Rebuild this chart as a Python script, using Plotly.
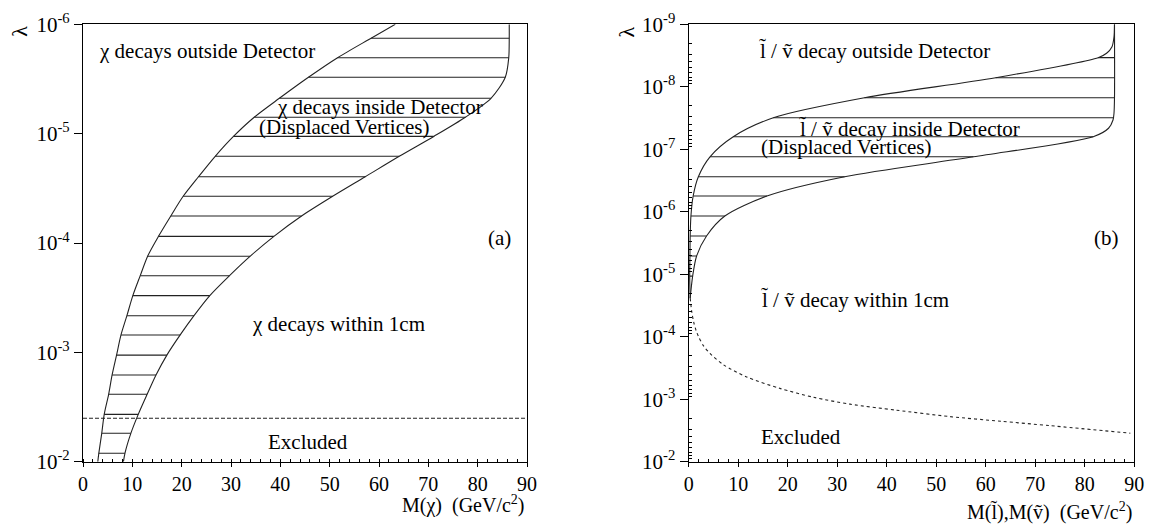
import numpy as np
import plotly.graph_objects as go

# ---------------- Panel (a): chi ----------------
lam_a = [1.0e-2, 8.38e-3, 5.50e-3, 3.69e-3, 2.42e-3, 1.61e-3, 1.06e-3, 6.93e-4, 4.62e-4,
         3.03e-4, 1.99e-4, 1.32e-4, 8.69e-5, 5.66e-5, 3.74e-5, 2.48e-5, 1.61e-5, 1.06e-5,
         7.08e-6, 4.75e-6, 3.05e-6, 2.02e-6, 1.34e-6, 1.0e-6]
m_lo_a = [3.0, 3.2, 3.8, 4.3, 5.2, 5.9, 6.8, 7.7, 8.9, 10.1, 11.6, 13.1, 15.3, 17.8, 20.3,
          23.4, 26.8, 30.5, 34.7, 39.8, 45.7, 51.6, 58.4, 63.3]
m_hi_a = [8.2, 8.5, 9.7, 11.2, 13.0, 14.8, 17.0, 19.7, 22.5, 25.7, 29.7, 33.9, 38.7, 44.3,
          50.6, 57.2, 64.1, 71.1, 77.5, 82.7, 85.6, 86.3, 86.4, 86.4]
hatch_a = lam_a[1:-1]
excluded_a = 4.0e-3

# ---------------- Panel (b): slepton / sneutrino ----------------
lam_up_b = [1.0e-9, 1.58e-9, 2.28e-9, 2.91e-9, 3.42e-9, 7.16e-9, 1.50e-8, 3.13e-8, 6.30e-8,
            1.32e-7, 2.75e-7, 5.60e-7, 1.17e-6, 2.44e-6, 5.10e-6, 1.07e-5, 2.40e-5]
m_up_b = [86.0, 85.9, 85.5, 84.4, 82.7, 62.0, 35.5, 17.1, 9.0, 4.3, 1.95, 0.9, 0.45, 0.3,
          0.25, 0.2, 0.3]
lam_dn_b = [1.0e-9, 1.5e-8, 2.65e-8, 3.40e-8, 4.61e-8, 6.30e-8, 1.32e-7, 2.75e-7, 5.60e-7,
            1.17e-6, 2.44e-6, 5.10e-6, 1.07e-5, 2.40e-5]
m_dn_b = [86.0, 86.0, 85.9, 85.7, 84.8, 81.7, 57.5, 31.5, 15.8, 7.3, 3.6, 1.6, 0.8, 0.3]
hatch_b = [3.42e-9, 7.16e-9, 1.50e-8, 3.13e-8, 6.30e-8, 1.32e-7, 2.75e-7, 5.60e-7, 1.17e-6,
           2.44e-6, 5.10e-6, 1.07e-5]
lam_dash_b = [2.4e-5, 3.9e-5, 5.8e-5, 8.0e-5, 1.0e-4, 1.4e-4, 1.85e-4, 2.8e-4, 4.4e-4, 6.7e-4,
              9.3e-4, 1.2e-3, 1.5e-3, 1.9e-3, 2.25e-3, 2.65e-3, 3.5e-3]
m_dash_b = [0.3, 0.6, 1.0, 1.5, 2.0, 3.0, 4.3, 7.0, 11.7, 18.4, 25.2, 32.6, 42.0, 52.8, 63.0,
            73.0, 89.2]

FONT = "Liberation Serif, Times New Roman, serif"
W, H = 1149, 524
LINE = "#222222"


def interp_mass(lams, masses, levels):
    lg = np.log10(np.asarray(lams, dtype=float))
    mm = np.asarray(masses, dtype=float)
    order = np.argsort(lg)
    return np.interp(np.log10(levels), lg[order], mm[order])


def hatch_xy(levels, lo, hi):
    xs, ys = [], []
    for lev, a, b in zip(levels, lo, hi):
        xs += [a, b, None]
        ys += [lev, lev, None]
    return xs, ys


fig = go.Figure()

# panel (a) curves
for m in (m_lo_a, m_hi_a):
    fig.add_trace(go.Scatter(x=m, y=lam_a, mode="lines", xaxis="x", yaxis="y",
                             line=dict(color=LINE, width=1.1, shape="spline", smoothing=0.8),
                             showlegend=False, hoverinfo="skip"))
lo = interp_mass(lam_a, m_lo_a, hatch_a)
hi = interp_mass(lam_a, m_hi_a, hatch_a)
hx, hy = hatch_xy(hatch_a, lo, hi)
fig.add_trace(go.Scatter(x=hx, y=hy, mode="lines", xaxis="x", yaxis="y",
                         line=dict(color=LINE, width=1.1), showlegend=False, hoverinfo="skip"))
fig.add_trace(go.Scatter(x=[0, 90], y=[excluded_a, excluded_a], mode="lines", xaxis="x", yaxis="y",
                         line=dict(color=LINE, width=1.1, dash="4px,2px"),
                         showlegend=False, hoverinfo="skip"))

# panel (b) curves
for lams, m in ((lam_up_b, m_up_b), (lam_dn_b, m_dn_b)):
    fig.add_trace(go.Scatter(x=m, y=lams, mode="lines", xaxis="x2", yaxis="y2",
                             line=dict(color=LINE, width=1.1, shape="spline", smoothing=0.8),
                             showlegend=False, hoverinfo="skip"))
lo = interp_mass(lam_up_b, m_up_b, hatch_b)
hi = interp_mass(lam_dn_b, m_dn_b, hatch_b)
hx, hy = hatch_xy(hatch_b, lo, hi)
fig.add_trace(go.Scatter(x=hx, y=hy, mode="lines", xaxis="x2", yaxis="y2",
                         line=dict(color=LINE, width=1.1), showlegend=False, hoverinfo="skip"))
fig.add_trace(go.Scatter(x=m_dash_b, y=lam_dash_b, mode="lines", xaxis="x2", yaxis="y2",
                         line=dict(color=LINE, width=1.1, dash="3px,3px", shape="spline", smoothing=0.8),
                         showlegend=False, hoverinfo="skip"))


def xax(x0, x1, anchor):
    return dict(domain=[x0 / W, x1 / W], range=[0, 90], anchor=anchor,
                tickvals=list(range(0, 91, 10)), ticks="outside", ticklen=4, tickwidth=1,
                minor=dict(ticks="inside", dtick=2, tick0=0, ticklen=3, tickwidth=1, tickcolor="black"),
                showline=True, mirror=True, linecolor="black", linewidth=1.3,
                showgrid=False, zeroline=False, tickcolor="black",
                tickfont=dict(family=FONT, size=20, color="black"), automargin=False,
                ticklabelstandoff=0, fixedrange=True)


def yax(exps, anchor, minor=False):
    lo_e, hi_e = exps
    vals = [10.0 ** e for e in range(lo_e, hi_e + 1)]
    text = ["10<sup>%d</sup>" % e for e in range(lo_e, hi_e + 1)]
    ax = dict(type="log", domain=[1 - 461.7 / H, 1 - 24.3 / H], range=[hi_e, lo_e],
              anchor=anchor, tickvals=vals, ticktext=text, ticks="outside", ticklen=8,
              tickwidth=1, tickcolor="black",
              showline=True, mirror=True, linecolor="black", linewidth=1.3,
              showgrid=False, zeroline=False,
              tickfont=dict(family=FONT, size=21, color="black"), automargin=False,
              fixedrange=True)
    if minor:
        mv = [k * 10.0 ** e for e in range(lo_e, hi_e) for k in range(2, 10)]
        ax["minor"] = dict(tickmode="array", tickvals=mv, ticks="inside", ticklen=3,
                           tickwidth=1, tickcolor="black")
    return ax


fig.update_layout(
    width=W, height=H, margin=dict(l=0, r=0, t=0, b=0),
    paper_bgcolor="white", plot_bgcolor="white",
    font=dict(family=FONT, size=20, color="black"),
    xaxis=xax(83, 527, "y"), yaxis=yax((-6, -2), "x"),
    xaxis2=xax(688.7, 1134.3, "y2"), yaxis2=yax((-9, -2), "x2", minor=True),
    showlegend=False,
)

ann = []


def txt(t, x, logy, xr, yr, xanchor="left", size=21):
    ann.append(dict(text=t, x=x, y=logy, xref=xr, yref=yr, xanchor=xanchor, yanchor="middle",
                    showarrow=False, font=dict(family=FONT, size=size, color="black")))


L = "l\u0303"
V = "\u1e7d"
# panel (a) labels
txt("\u03c7 decays outside Detector", 2.78, -5.756, "x", "y")
txt("\u03c7 decays inside Detector", 38.9, -5.246, "x", "y")
txt("(Displaced Vertices)", 35.3, -5.064, "x", "y")
txt("(a)", 84.5, -4.043, "x", "y", xanchor="center")
txt("\u03c7 decays within 1cm", 33.9, -3.259, "x", "y")
txt("Excluded", 37.1, -2.183, "x", "y")
# panel (b) labels
txt(L + " / " + V + " decay outside Detector", 13.7, -8.573, "x2", "y2")
txt(L + " / " + V + " decay inside Detector", 21.8, -7.336, "x2", "y2")
txt("(Displaced Vertices)", 14.2, -7.041, "x2", "y2")
txt("(b)", 84.4, -5.575, "x2", "y2", xanchor="center")
txt(L + " / " + V + " decay within 1cm", 14.1, -4.588, "x2", "y2")
txt("Excluded", 14.1, -2.40, "x2", "y2")

# axis titles
ann.append(dict(text="M(\u03c7)  (GeV/c<sup>2</sup>)", x=90, xref="x", y=1 - 504 / H, yref="paper",
                xanchor="right", yanchor="middle", showarrow=False,
                font=dict(family=FONT, size=20, color="black")))
ann.append(dict(text="M(" + L + "),M(" + V + ")  (GeV/c<sup>2</sup>)", x=90, xref="x2",
                y=1 - 511 / H, yref="paper", xanchor="right", yanchor="middle", showarrow=False,
                font=dict(family=FONT, size=20, color="black")))
for px in (20, 626.7):
    ann.append(dict(text="\u03bb", x=px / W, y=1 - 31.7 / H, xref="paper", yref="paper",
                    xanchor="center", yanchor="middle", textangle=-90, showarrow=False,
                    font=dict(family=FONT, size=22, color="black")))

fig.update_layout(annotations=ann)
fig.write_html("out.html", config={"displayModeBar": False},
               post_script="document.body.style.margin='0px';")
